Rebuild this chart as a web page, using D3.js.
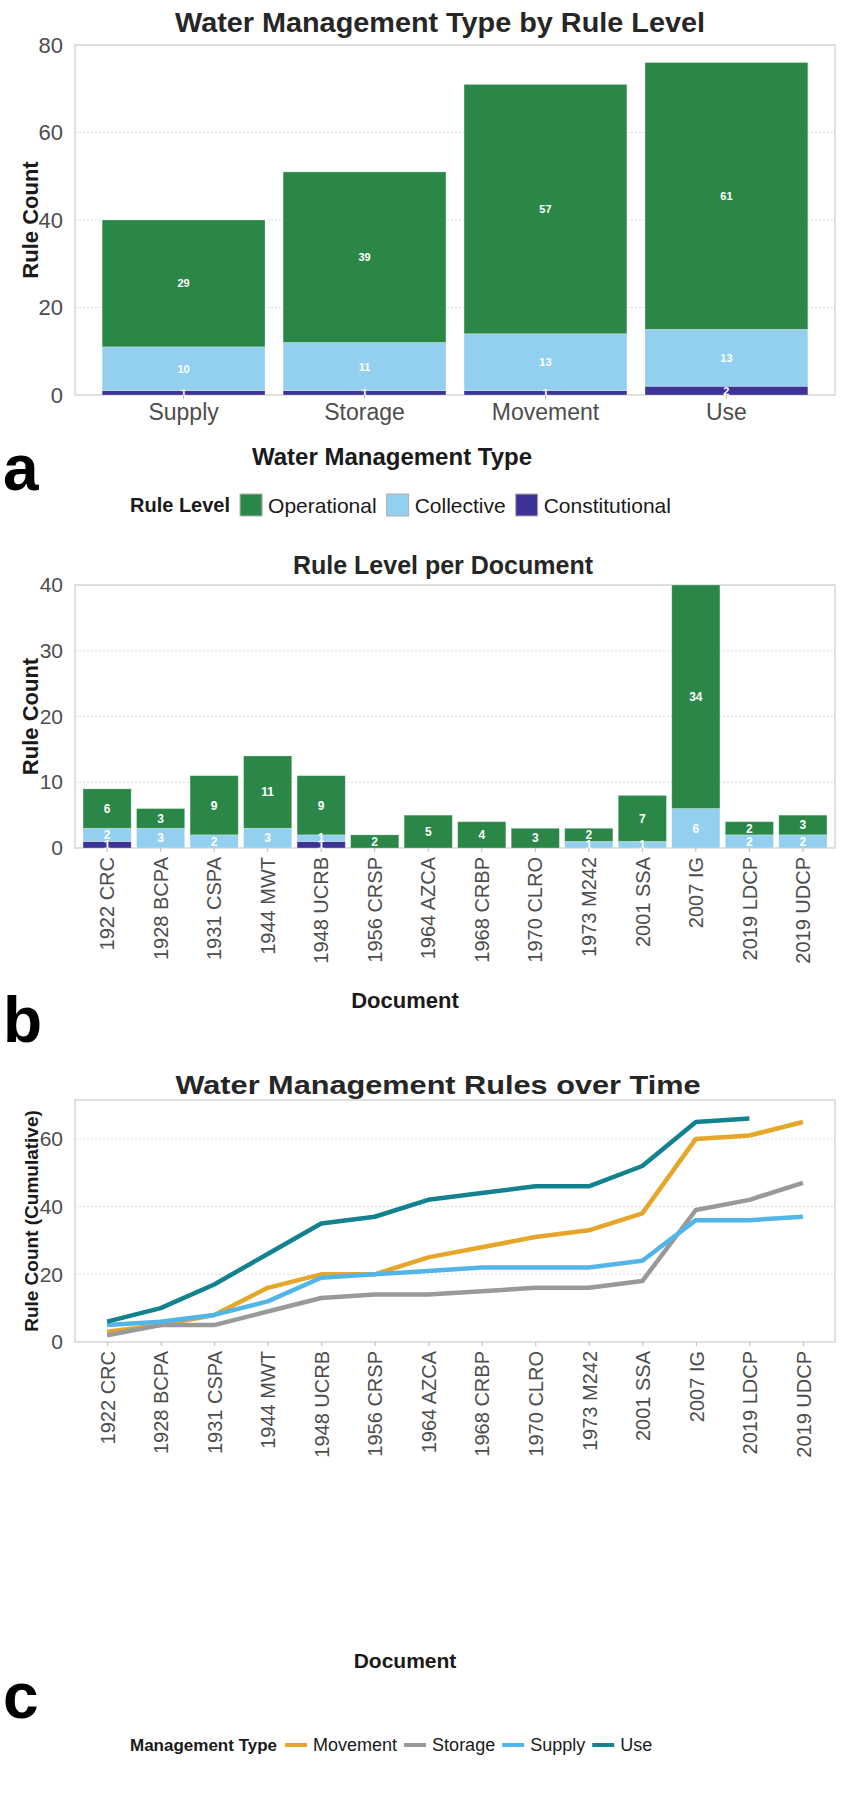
<!DOCTYPE html>
<html>
<head>
<meta charset="utf-8">
<script src="https://cdn.jsdelivr.net/npm/d3@7"></script>
<style>
  html, body { margin: 0; padding: 0; background: #fff; }
  svg { display: block; font-family: "Liberation Sans", Arial, sans-serif; }
</style>
</head>
<body>
<script>
// ---------- DATA ----------
const mgmtTypes = ["Supply", "Storage", "Movement", "Use"];
const levelNames = ["Operational", "Collective", "Constitutional"];
const constitutionalA = [1, 1, 1, 2];
const collectiveA = [10, 11, 13, 13];
const operationalA = [29, 39, 57, 61];
const yTicksA = [0, 20, 40, 60, 80];

const documents = ["1922 CRC", "1928 BCPA", "1931 CSPA", "1944 MWT", "1948 UCRB", "1956 CRSP", "1964 AZCA",
  "1968 CRBP", "1970 CLRO", "1973 M242", "2001 SSA", "2007 IG", "2019 LDCP", "2019 UDCP"];
const constitutionalB = [1, 0, 0, 0, 1, 0, 0, 0, 0, 0, 0, 0, 0, 0];
const collectiveB = [2, 3, 2, 3, 1, 0, 0, 0, 0, 1, 1, 6, 2, 2];
const operationalB = [6, 3, 9, 11, 9, 2, 5, 4, 3, 2, 7, 34, 2, 3];
const yTicksB = [0, 10, 20, 30, 40];

const seriesNamesC = ["Movement", "Storage", "Supply", "Use"];
const movementC = [3, 5, 8, 16, 20, 20, 25, 28, 31, 33, 38, 60, 61, 65];
const storageC = [2, 5, 5, 9, 13, 14, 14, 15, 16, 16, 18, 39, 42, 47];
const supplyC = [5, 6, 8, 12, 19, 20, 21, 22, 22, 22, 24, 36, 36, 37];
const useC = [6, 10, 17, 26, 35, 37, 42, 44, 46, 46, 52, 65, 66];
const yTicksC = [0, 20, 40, 60];

// ---------- STYLE ----------
const levelColor = { Operational: "#2a8748", Collective: "#93cfee", Constitutional: "#3d3396" };
const lineColor = { Movement: "#e6a62a", Storage: "#999999", Supply: "#52b5e8", Use: "#12838e" };
const tickColor = "#4d4d4d";
const gridColor = "#dcdcdc";
const borderColor = "#d6d6d6";
const FONT = '"Liberation Sans", Arial, sans-serif';

const W = 851, H = 1796;
const svg = d3.select("body").append("svg").attr("width", W).attr("height", H);

const plotLeft = 75, plotRight = 835;

function frame(g, y, top, bottom, ticks, fs) {
  g.append("g").selectAll("line").data(ticks.filter(t => t !== 0)).join("line")
    .attr("x1", plotLeft).attr("x2", plotRight)
    .attr("y1", d => y(d)).attr("y2", d => y(d))
    .attr("stroke", gridColor).attr("stroke-width", 1).attr("stroke-dasharray", "2,2");
  g.append("rect").attr("x", plotLeft).attr("y", top).attr("width", plotRight - plotLeft).attr("height", bottom - top)
    .attr("fill", "none").attr("stroke", borderColor).attr("stroke-width", 1.5);
  const ax = g.append("g").attr("transform", `translate(${plotLeft},0)`)
    .call(d3.axisLeft(y).tickValues(ticks).tickSize(0).tickPadding(12));
  ax.select(".domain").remove();
  ax.selectAll("text").attr("font-size", fs).attr("fill", tickColor).attr("font-family", FONT);
}

function title(text, cx, y, fs, len) {
  const t = svg.append("text").attr("x", cx).attr("y", y).attr("text-anchor", "middle")
    .attr("font-size", fs).attr("font-weight", "bold").attr("fill", "#262626").text(text);
  if (len) t.attr("textLength", len).attr("lengthAdjust", "spacingAndGlyphs");
}
function yTitle(text, cy, fs) {
  svg.append("text").attr("transform", `translate(38,${cy}) rotate(-90)`).attr("text-anchor", "middle")
    .attr("font-size", fs).attr("font-weight", "bold").attr("fill", "#1a1a1a").text(text);
}
function xTitle(text, cx, y, fs) {
  svg.append("text").attr("x", cx).attr("y", y).attr("text-anchor", "middle")
    .attr("font-size", fs).attr("font-weight", "bold").attr("fill", "#1a1a1a").text(text);
}
function panelLetter(t, y) {
  svg.append("text").attr("x", 3).attr("y", y).attr("font-size", 64).attr("font-weight", "bold").attr("fill", "#000").text(t);
}

function stackedBars(g, cats, consts, colls, ops, x, y, labelSize) {
  const rows = cats.map((c, i) => ({ cat: c, Constitutional: consts[i], Collective: colls[i], Operational: ops[i] }));
  const stack = d3.stack().keys(["Constitutional", "Collective", "Operational"])(rows);
  stack.forEach(layer => {
    g.append("g").selectAll("rect").data(layer.filter(d => d[1] - d[0] > 0)).join("rect")
      .attr("x", d => x(d.data.cat)).attr("width", x.bandwidth())
      .attr("y", d => y(d[1])).attr("height", d => y(d[0]) - y(d[1]))
      .attr("fill", levelColor[layer.key])
      .attr("stroke", "#ffffff").attr("stroke-opacity", 0.35).attr("stroke-width", 0.8);
  });
  stack.forEach(layer => {
    g.append("g").selectAll("text").data(layer.filter(d => d[1] - d[0] > 0)).join("text")
      .attr("x", d => x(d.data.cat) + x.bandwidth() / 2)
      .attr("y", d => (y(d[0]) + y(d[1])) / 2)
      .attr("dy", "0.36em").attr("text-anchor", "middle")
      .attr("font-size", labelSize).attr("font-weight", "bold").attr("fill", "#ffffff")
      .text(d => d[1] - d[0]);
  });
}

function bottomAxis(g, x, bottom, fs, rotate) {
  const xa = g.append("g").attr("transform", `translate(0,${bottom})`)
    .call(d3.axisBottom(x).tickSize(4).tickPadding(5));
  xa.select(".domain").remove();
  xa.selectAll("line").attr("stroke", "#bbbbbb");
  const t = xa.selectAll("text").attr("font-size", fs).attr("fill", tickColor).attr("font-family", FONT);
  if (rotate) {
    t.attr("text-anchor", "end").attr("transform", "rotate(-90)")
      .attr("x", -9).attr("y", 0).attr("dy", "0.36em");
  }
}

// ================= PANEL A =================
{
  const top = 45, bottom = 395;
  const y = d3.scaleLinear().domain([0, 80]).range([bottom, top]);
  const x = d3.scaleBand().domain(mgmtTypes).range([plotLeft, plotRight]).paddingInner(0.1).paddingOuter(0.15);
  const g = svg.append("g");
  title("Water Management Type by Rule Level", 440, 32, 27, 530);
  frame(g, y, top, bottom, yTicksA, 22);
  stackedBars(g, mgmtTypes, constitutionalA, collectiveA, operationalA, x, y, 11);
  bottomAxis(g, x, bottom, 23, false);
  yTitle("Rule Count", (top + bottom) / 2, 22);
  xTitle("Water Management Type", 392, 465, 24);
  panelLetter("a", 490);

  const lg = svg.append("g").attr("transform", "translate(130,505)");
  let cx = 0;
  const t0 = lg.append("text").attr("x", cx).attr("dy", "0.36em").attr("font-size", 20).attr("font-weight", "bold").attr("fill", "#1a1a1a").text("Rule Level");
  cx += t0.node().getComputedTextLength() + 10;
  levelNames.forEach(n => {
    lg.append("rect").attr("x", cx).attr("y", -11).attr("width", 22).attr("height", 22)
      .attr("fill", levelColor[n]).attr("stroke", "#b0b0b0").attr("stroke-width", 1);
    cx += 28;
    const t = lg.append("text").attr("x", cx).attr("dy", "0.36em").attr("font-size", 21).attr("fill", "#1a1a1a").text(n);
    cx += t.node().getComputedTextLength() + 10;
  });
}

// ================= PANEL B =================
{
  const top = 585, bottom = 848;
  const y = d3.scaleLinear().domain([0, 40]).range([bottom, top]);
  const x = d3.scaleBand().domain(documents).range([plotLeft, plotRight]).paddingInner(0.1).paddingOuter(0.15);
  const g = svg.append("g");
  title("Rule Level per Document", 443, 574, 25);
  frame(g, y, top, bottom, yTicksB, 21);
  stackedBars(g, documents, constitutionalB, collectiveB, operationalB, x, y, 12);
  bottomAxis(g, x, bottom, 20, true);
  yTitle("Rule Count", (top + bottom) / 2, 22);
  xTitle("Document", 405, 1008, 22);
  panelLetter("b", 1042);
}

// ================= PANEL C =================
{
  const top = 1100, bottom = 1342;
  const y = d3.scaleLinear().domain([0, 71.5]).range([bottom, top]);
  const x = d3.scalePoint().domain(documents).range([plotLeft, plotRight]).padding(0.6);
  const g = svg.append("g");
  title("Water Management Rules over Time", 438, 1094, 26, 525);
  frame(g, y, top, bottom, yTicksC, 21);
  const seriesData = { Movement: movementC, Storage: storageC, Supply: supplyC, Use: useC };
  const line = d3.line().x((d, i) => x(documents[i])).y(d => y(d));
  seriesNamesC.forEach(n => {
    g.append("path").datum(seriesData[n]).attr("d", line)
      .attr("fill", "none").attr("stroke", lineColor[n]).attr("stroke-width", 4.5)
      .attr("stroke-linejoin", "round").attr("stroke-linecap", "butt");
  });
  bottomAxis(g, x, bottom, 20, true);
  yTitle("Rule Count (Cumulative)", (top + bottom) / 2, 19);
  xTitle("Document", 405, 1668, 21);
  panelLetter("c", 1718);

  const lg = svg.append("g").attr("transform", "translate(130,1745)");
  let cx = 0;
  const t0 = lg.append("text").attr("x", cx).attr("dy", "0.36em").attr("font-size", 17).attr("font-weight", "bold").attr("fill", "#1a1a1a").text("Management Type");
  cx += t0.node().getComputedTextLength() + 8;
  seriesNamesC.forEach(n => {
    lg.append("line").attr("x1", cx).attr("x2", cx + 22).attr("y1", 0).attr("y2", 0)
      .attr("stroke", lineColor[n]).attr("stroke-width", 4);
    cx += 28;
    const t = lg.append("text").attr("x", cx).attr("dy", "0.36em").attr("font-size", 18).attr("fill", "#1a1a1a").text(n);
    cx += t.node().getComputedTextLength() + 7;
  });
}
</script>
</body>
</html>
